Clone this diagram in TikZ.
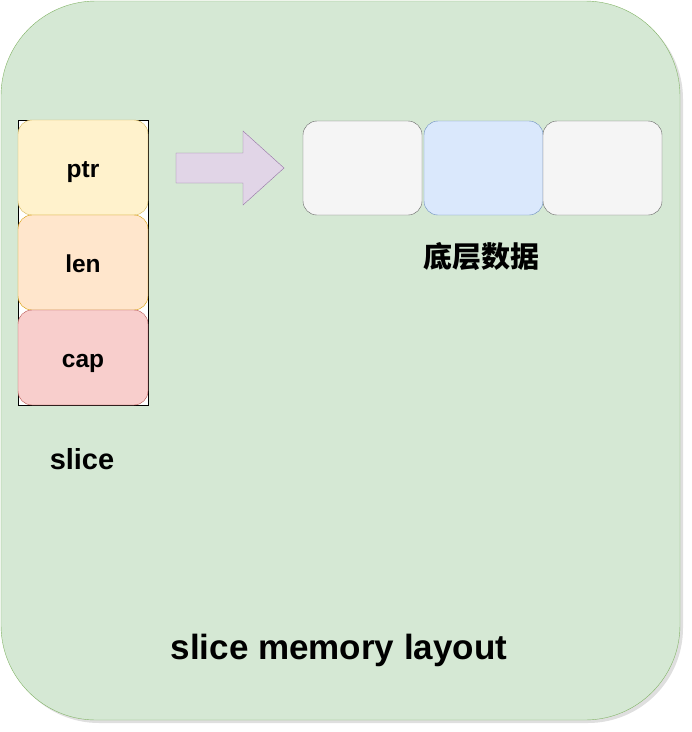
\documentclass[tikz,border=0pt]{standalone}
\usepackage{fontspec}
\setmainfont{Liberation Sans}
\newfontfamily\cjk{Noto Sans CJK SC}
\usetikzlibrary{shadows}
\definecolor{outerfill}{HTML}{D5E8D4}
\definecolor{outerline}{HTML}{82B366}
\definecolor{ptrfill}{HTML}{FFF2CC}
\definecolor{ptrline}{HTML}{D6B656}
\definecolor{lenfill}{HTML}{FFE6CC}
\definecolor{lenline}{HTML}{D79B00}
\definecolor{capfill}{HTML}{F8CECC}
\definecolor{capline}{HTML}{B85450}
\definecolor{greyfill}{HTML}{F5F5F5}
\definecolor{greyline}{HTML}{666666}
\definecolor{bluefill}{HTML}{DAE8FC}
\definecolor{blueline}{HTML}{6C8EBF}
\definecolor{arrfill}{HTML}{E1D5E7}
\definecolor{arrline}{HTML}{9673A6}
\tikzset{
  field/.style={draw, rounded corners=14pt, minimum width=130pt, minimum height=95pt, inner sep=0pt,
    text height=19pt, text depth=0pt, font=\fontsize{24.5}{28}\selectfont\bfseries},
  cell/.style={draw, rounded corners=14pt, minimum width=119pt, minimum height=94pt, inner sep=0pt},
  lbl/.style={inner sep=0pt, font=\fontsize{29}{34}\selectfont\bfseries},
}
\begin{document}
\begin{tikzpicture}[x=1pt,y=-1pt]
\useasboundingbox (0,0) rectangle (692,732);
% outer container
\node[draw=outerline, fill=outerfill, rounded corners=95pt, minimum width=679pt, minimum height=719pt, inner sep=0pt,
  drop shadow={shadow xshift=3pt, shadow yshift=-3pt, opacity=0.25, fill=gray}] (outer) at (340.5,360.5) {};
% slice struct
\node[draw=black, fill=white, minimum width=130pt, minimum height=285pt, inner sep=0pt] (slicebox) at (83,262.5) {};
\node[field, fill=ptrfill, draw=ptrline] (ptr) at (83,167.5) {ptr};
\node[field, fill=lenfill, draw=lenline] (len) at (83,262.5) {len};
\node[field, fill=capfill, draw=capline] (cap) at (83,357.5) {cap};
\node[lbl] (slicelbl) at (82,459) {slice};
% arrow
\draw[fill=arrfill, draw=arrline] (176,153) -- (243,153) -- (243,131) -- (284,168) -- (243,205) -- (243,183) -- (176,183) -- cycle;
% data cells
\node[cell, fill=greyfill, draw=greyline] (d1) at (362.5,168) {};
\node[cell, fill=bluefill, draw=blueline] (d2) at (483.5,168) {};
\node[cell, fill=greyfill, draw=greyline] (d3) at (602.5,168) {};
\node[lbl, font=\fontsize{29}{34}\selectfont\cjk\bfseries] (datalbl) at (481,257) {底层数据};
% title
\node[lbl, font=\fontsize{35}{40}\selectfont\bfseries] (title) at (339,650) {slice memory layout};
\end{tikzpicture}
\end{document}
